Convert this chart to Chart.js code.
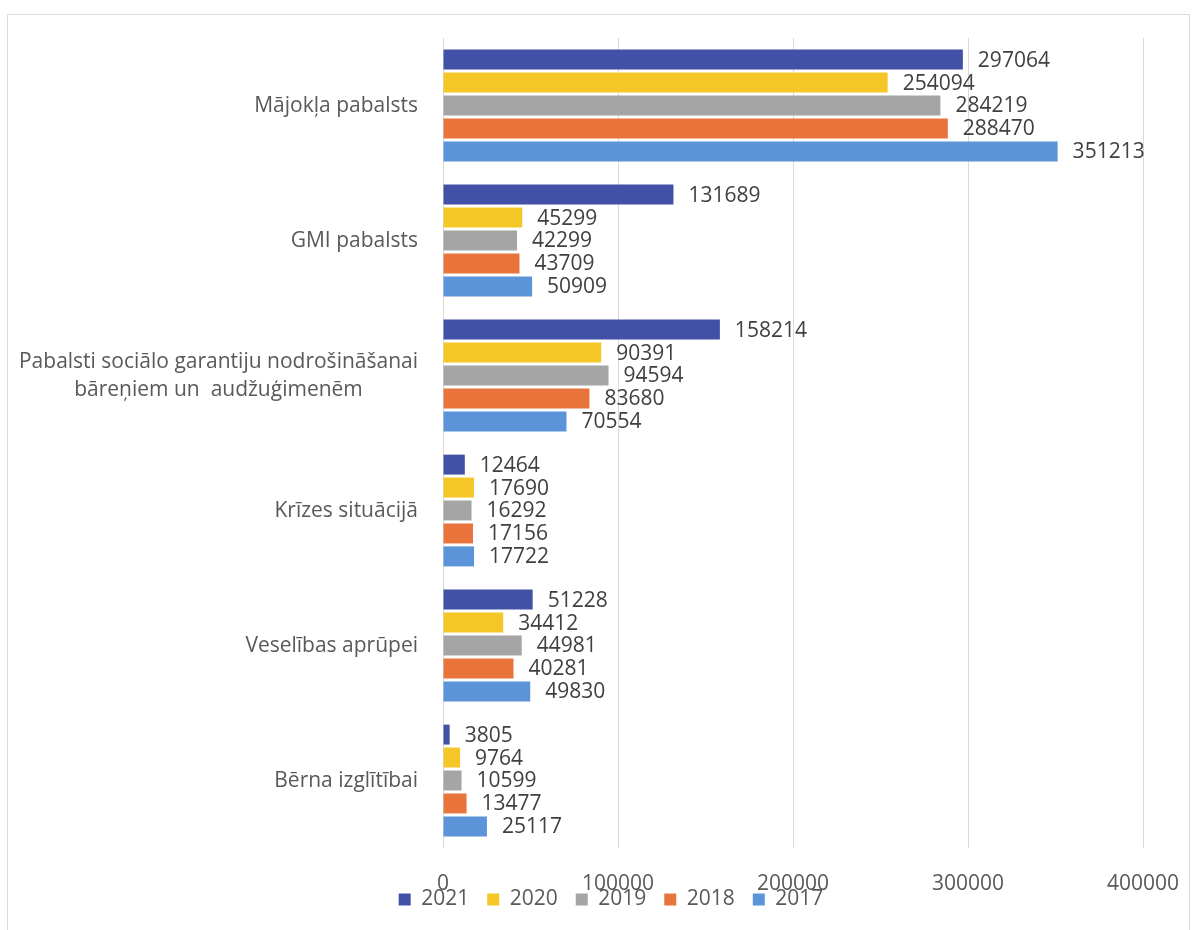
<!DOCTYPE html>
<html>
<head>
<meta charset="utf-8">
<script src="https://cdn.jsdelivr.net/npm/chart.js@4.4.1/dist/chart.umd.min.js"></script>
<style>
  html, body { margin: 0; padding: 0; background: #fff; }
  #wrap { position: relative; width: 1195px; height: 930px; overflow: hidden; }
  #frame { position: absolute; left: 7px; top: 14px; width: 1183px; height: 930px; border: 1px solid #dcdcdc; box-sizing: border-box; }
  canvas { position: absolute; left: 0; top: 0; }
</style>
</head>
<body>
<div id="wrap">
  <div id="frame"></div>
  <canvas id="chart" width="1195" height="930"></canvas>
</div>
<script>
  // categories (top to bottom)
  const categories = [
    'Mājokļa pabalsts',
    'GMI pabalsts',
    ['Pabalsti sociālo garantiju nodrošināšanai', 'bāreņiem un  audžuģimenēm'],
    'Krīzes situācijā',
    'Veselības aprūpei',
    'Bērna izglītībai'
  ];

  const years = ['2021', '2020', '2019', '2018', '2017'];

  const values2021 = [297064, 131689, 158214, 12464, 51228, 3805];
  const values2020 = [254094, 45299, 90391, 17690, 34412, 9764];
  const values2019 = [284219, 42299, 94594, 16292, 44981, 10599];
  const values2018 = [288470, 43709, 83680, 17156, 40281, 13477];
  const values2017 = [351213, 50909, 70554, 17722, 49830, 25117];

  const xTicks = [0, 100000, 200000, 300000, 400000];

  const seriesColors = ['#4151a6', '#f5c726', '#a5a5a5', '#e8743b', '#5b94d8'];

  const allValues = [values2021, values2020, values2019, values2018, values2017];

  const FONT = '"Open Sans", "Noto Sans", sans-serif';

  // value labels to the right of each bar
  const valueLabels = {
    id: 'valueLabels',
    afterDatasetsDraw(chart) {
      const ctx = chart.ctx;
      ctx.save();
      ctx.font = '21px ' + FONT;
      ctx.fillStyle = '#404040';
      ctx.textAlign = 'left';
      ctx.textBaseline = 'middle';
      chart.data.datasets.forEach((ds, i) => {
        chart.getDatasetMeta(i).data.forEach((bar, j) => {
          ctx.fillText(String(ds.data[j]), bar.x + 15, bar.y + 1);
        });
      });
      ctx.restore();
    }
  };

  // category labels (multi-line ones centred in their own block) and x tick labels;
  // x labels are drawn here so they can sit over the legend like in the original
  const axisLabels = {
    id: 'axisLabels',
    afterDraw(chart) {
      const ctx = chart.ctx;
      const yScale = chart.scales.y;
      const xScale = chart.scales.x;
      const right = chart.chartArea.left - 25;
      ctx.save();
      ctx.font = '21px ' + FONT;
      ctx.fillStyle = '#595959';
      ctx.textAlign = 'center';
      ctx.textBaseline = 'middle';
      categories.forEach((label, i) => {
        const lines = Array.isArray(label) ? label : [label];
        const w = Math.max(...lines.map(l => ctx.measureText(l).width));
        const cx = right - w / 2;
        const cy = yScale.getPixelForTick(i);
        lines.forEach((l, k) => {
          ctx.fillText(l, cx, cy + (k - (lines.length - 1) / 2) * 28 + 1);
        });
      });
      xTicks.forEach(v => {
        ctx.fillText(String(v), xScale.getPixelForValue(v), chart.chartArea.bottom + 36);
      });
      ctx.restore();
    }
  };

  const ctx = document.getElementById('chart').getContext('2d');

  new Chart(ctx, {
    type: 'bar',
    data: {
      labels: categories,
      datasets: years.map((y, i) => ({
        label: y,
        data: allValues[i],
        backgroundColor: seriesColors[i],
        borderWidth: 0,
        barPercentage: 0.87,
        categoryPercentage: 0.85
      }))
    },
    options: {
      indexAxis: 'y',
      responsive: false,
      animation: false,
      devicePixelRatio: 1,
      layout: { padding: { top: 38, left: 79, right: 52, bottom: 10 } },
      scales: {
        x: {
          min: 0,
          max: 400000,
          afterBuildTicks: s => { s.ticks = xTicks.map(v => ({ value: v })); },
          afterFit: s => { s.height = 23; },
          ticks: { display: false },
          grid: { color: '#d9d9d9', drawTicks: false },
          border: { display: false }
        },
        y: {
          afterFit: s => { s.width = 364; },
          ticks: { display: false },
          grid: { display: false },
          border: { display: false }
        }
      },
      plugins: {
        legend: {
          position: 'bottom',
          labels: {
            boxWidth: 12,
            boxHeight: 12,
            padding: 18,
            color: '#595959',
            font: { family: FONT, size: 21 }
          }
        },
        tooltip: { enabled: false }
      }
    },
    plugins: [valueLabels, axisLabels]
  });
</script>
</body>
</html>
